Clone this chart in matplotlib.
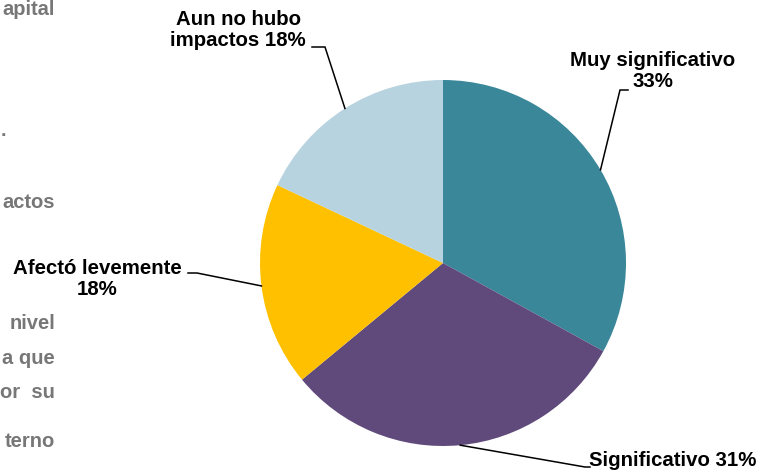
import matplotlib
matplotlib.use("Agg")
import matplotlib.pyplot as plt
import numpy as np

plt.rcParams['font.family'] = ['Liberation Sans', 'DejaVu Sans']

labels = ["Muy significativo\n33%", "Significativo 31%", "Afectó levemente\n18%", "Aun no hubo\nimpactos 18%"]
values = [33, 31, 18, 18]
colors = ["#3A879A", "#604A7B", "#FFC000", "#B7D3DF"]

# background document fragments (cut off at left edge)
bg_texts = ["apital", ".", "actos", "nivel", "a que", "or  su", "terno"]

W, H = 762, 472
fig = plt.figure(figsize=(W / 100, H / 100), dpi=100)
ax = fig.add_axes([0, 0, 1, 1])

cx, cy, R = 443, H - 263, 183
wedges, _ = ax.pie(values, colors=colors, startangle=90, counterclock=False,
                   center=(cx, cy), radius=R, wedgeprops=dict(linewidth=0))
ax.set_xlim(0, W)
ax.set_ylim(0, H)
ax.set_aspect('equal')
ax.axis('off')

# label layout: (elbow, end of line, text pos, ha)
layout = [
    ((620, H - 90), (628, H - 90), (653, H - 71), 'center'),
    ((585, H - 467), (590, H - 467), (589, H - 461), 'left'),
    ((197, H - 273), (188, H - 273), (97, H - 279), 'center'),
    ((325, H - 47), (312, H - 47), (238, H - 30), 'center'),
]
for w, lab, (elb, end, tp, ha) in zip(wedges, labels, layout):
    mid = np.deg2rad((w.theta1 + w.theta2) / 2)
    ax_, ay_ = cx + R * np.cos(mid), cy + R * np.sin(mid)
    ax.plot([ax_, elb[0], end[0]], [ay_, elb[1], end[1]], color='black', lw=1.1,
            solid_joinstyle='miter')
    ax.text(tp[0], tp[1], lab, ha=ha, va='center', fontsize=14.7, fontweight='bold',
            color='black', linespacing=1.12, multialignment='center')

bg_y = [15, 136, 208, 329, 364, 398, 447]
for t, y in zip(bg_texts, bg_y):
    if t == ".":
        ax.text(1, H - y, t, ha='left', va='baseline', fontsize=14, fontweight='bold', color='#777777')
    else:
        ax.text(55, H - y, t, ha='right', va='baseline', fontsize=14.5, fontweight='bold', color='#777777')

fig.savefig("out.png", dpi=100)
